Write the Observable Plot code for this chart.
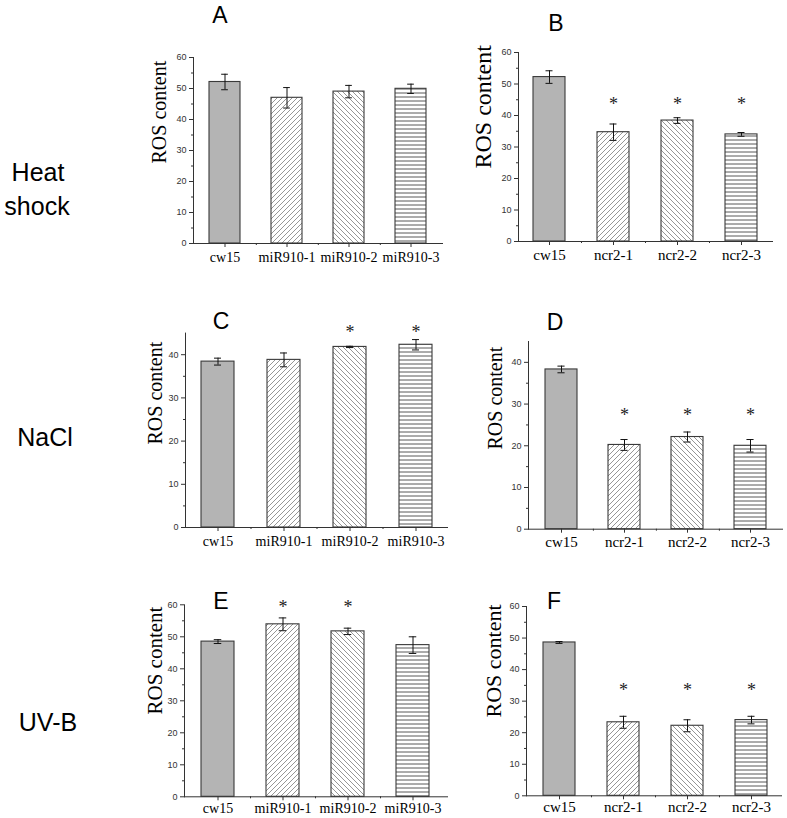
<!DOCTYPE html>
<html><head><meta charset="utf-8">
<script src="https://cdn.jsdelivr.net/npm/d3@7"></script>
<script src="https://cdn.jsdelivr.net/npm/@observablehq/plot@0.6"></script>
<style>
body{margin:0;background:#fff;}
#wrap{position:relative;width:787px;height:818px;overflow:hidden;background:#fff;}
.lbl{position:absolute;font-family:"Liberation Sans",Arial,sans-serif;color:#000;white-space:nowrap;transform:translate(-50%,-50%);line-height:1;}
</style></head><body>
<svg width="0" height="0" style="position:absolute">
<defs>
<pattern id="patFwd" patternUnits="userSpaceOnUse" width="5" height="5">
<rect width="5" height="5" fill="#fff"/>
<path d="M-1,1 l2,-2 M0,5 l5,-5 M4,6 l2,-2" stroke="#8a8a8a" stroke-width="0.9"/>
</pattern>
<pattern id="patBack" patternUnits="userSpaceOnUse" width="5" height="5">
<rect width="5" height="5" fill="#fff"/>
<path d="M-1,4 l2,2 M0,0 l5,5 M4,-1 l2,2" stroke="#8a8a8a" stroke-width="0.9"/>
</pattern>
<pattern id="patHor" patternUnits="userSpaceOnUse" width="4" height="4">
<rect width="4" height="4" fill="#fff"/>
<path d="M0,2 h4" stroke="#444" stroke-width="0.9"/>
</pattern>
</defs>
</svg>
<div id="wrap"></div>
<script>
// ---- data ----
const catsMir = ["cw15", "miR910-1", "miR910-2", "miR910-3"];
const catsNcr = ["cw15", "ncr2-1", "ncr2-2", "ncr2-3"];

const meanA = [52.1, 47.0, 49.0, 49.9];
const errA  = [2.5, 3.3, 2.0, 1.5];
const starsA = [];
const starYA = 0;

const meanB = [52.2, 34.7, 38.4, 34.0];
const errB  = [2.0, 2.6, 0.9, 0.6];
const starsB = ["ncr2-1", "ncr2-2", "ncr2-3"];
const starYB = 45;

const meanC = [38.4, 38.8, 41.8, 42.3];
const errC  = [0.8, 1.6, 0.15, 1.2];
const starsC = ["miR910-2", "miR910-3"];
const starYC = 46.1;

const meanD = [38.3, 20.2, 22.1, 20.0];
const errD  = [0.8, 1.3, 1.2, 1.5];
const starsD = ["ncr2-1", "ncr2-2", "ncr2-3"];
const starYD = 28.3;

const meanE = [48.5, 53.9, 51.7, 47.4];
const errE  = [0.6, 2.0, 1.0, 2.6];
const starsE = ["miR910-1", "miR910-2"];
const starYE = 60.5;

const meanF = [48.6, 23.3, 22.2, 24.0];
const errF  = [0.3, 1.9, 1.9, 1.2];
const starsF = ["ncr2-1", "ncr2-2", "ncr2-3"];
const starYF = 34.6;

const yMaxRow = [60, 60, 45, 45, 60, 60];
const yLabel = "ROS content";
const rowLabels = [["Heat", "shock"], ["NaCl"], ["UV-B"]];
const panelLetters = ["A", "B", "C", "D", "E", "F"];

// ---- styles / layout ----
const fills = ["#b4b4b4", "url(#patFwd)", "url(#patBack)", "url(#patHor)"];
const serif = "'Liberation Serif','Times New Roman',serif";

const panels = [
  {cats: catsMir, mean: meanA, err: errA, stars: starsA, starY: starYA},
  {cats: catsNcr, mean: meanB, err: errB, stars: starsB, starY: starYB},
  {cats: catsMir, mean: meanC, err: errC, stars: starsC, starY: starYC},
  {cats: catsNcr, mean: meanD, err: errD, stars: starsD, starY: starYD},
  {cats: catsMir, mean: meanE, err: errE, stars: starsE, starY: starYE},
  {cats: catsNcr, mean: meanF, err: errF, stars: starsF, starY: starYF}
];
const geo = [
  {col:0, axisL:193, axisR:443, yTop:57,    y0:243,   r0:192.5,  r1:443,    xFont:14, xPad:5, labX:159, labY:163, labFont:20},
  {col:1, axisL:518, axisR:773, yTop:52,    y0:241,   r0:517,    r1:773,    xFont:15, xPad:4, labX:483, labY:168, labFont:24},
  {col:0, axisL:185, axisR:448, yTop:332.6, y0:527,   r0:184.5,  r1:448.5,  xFont:14, xPad:5, labX:155, labY:444, labFont:20},
  {col:1, axisL:528, axisR:783, yTop:341,   y0:528.7, r0:528,    r1:783,    xFont:15, xPad:3, labX:495, labY:449, labFont:20},
  {col:0, axisL:184, axisR:448, yTop:604.3, y0:796.3, r0:184.75, r1:444.75, xFont:14, xPad:2, labX:155, labY:714, labFont:21},
  {col:1, axisL:526, axisR:782, yTop:606,   y0:795.3, r0:527,    r1:783,    xFont:15, xPad:2, labX:493, labY:717, labFont:22}
];
const letterPos = [[220,15],[556,23],[221,321],[555,322],[221,601],[554,601]];
const rowPos = [[[38,172],[37,206]], [[45,437]], [[48,722]]];

const wrap = document.getElementById("wrap");

panels.forEach((p, k) => {
  const g = geo[k];
  const ymax = yMaxRow[k];
  const svgLeft = g.col === 0 ? 128 : 458;
  const svgW = g.col === 0 ? 325 : 329;
  const svgTop = Math.floor(g.yTop) - 30;
  const h = Math.min(Math.ceil(g.y0 - svgTop) + 32, 818 - svgTop);
  const data = p.cats.map((c, i) => ({cat: c, mean: p.mean[i], err: p.err[i]}));
  const step = (g.r1 - g.r0) / p.cats.length;
  const bw = step * 0.5;
  const capInset = (bw - 7) / 2;
  const major = d3.range(0, ymax + 0.01, 10);
  const minor = d3.range(5, ymax, 10);
  const chart = Plot.plot({
    width: svgW,
    height: h,
    marginLeft: g.axisL - svgLeft,
    marginRight: svgLeft + svgW - g.axisR,
    marginTop: g.yTop - svgTop,
    marginBottom: svgTop + h - g.y0,
    style: {fontFamily: "'Liberation Sans',Arial,sans-serif", fontSize: "9px", color: "#333", background: "transparent", overflow: "visible"},
    x: {type: "band", domain: p.cats, range: [g.r0 - svgLeft, g.r1 - svgLeft], paddingInner: 0.5, paddingOuter: 0.25},
    y: {domain: [0, ymax]},
    color: {type: "ordinal", domain: p.cats, range: fills},
    marks: [
      Plot.barY(data, {x: "cat", y: "mean", fill: "cat", stroke: "#3a3a3a", strokeWidth: 1.1}),
      Plot.ruleX(data, {x: "cat", y1: d => d.mean - d.err, y2: d => d.mean + d.err, stroke: "#111", strokeWidth: 1}),
      Plot.tickY(data, {x: "cat", y: d => d.mean - d.err, insetLeft: capInset, insetRight: capInset, stroke: "#111"}),
      Plot.tickY(data, {x: "cat", y: d => d.mean + d.err, insetLeft: capInset, insetRight: capInset, stroke: "#111"}),
      Plot.text(p.stars, {x: d => d, y: () => p.starY, text: () => "*", fontSize: 18, fontFamily: serif, fill: "#222", dy: 4}),
      Plot.ruleY([0], {stroke: "#333"}),
      Plot.frame({anchor: "left", stroke: "#333"}),
      Plot.axisY({ticks: major, tickSize: 4, tickPadding: 3, fontSize: 9, label: null}),
      Plot.axisY({ticks: minor, tickSize: 2, tickFormat: () => "", label: null}),
      Plot.axisX({tickSize: 4, tickPadding: g.xPad, fontSize: g.xFont, fontFamily: serif, fill: "#000", label: null}),
      Plot.axisX({ticks: p.cats.slice(0, -1), tickSize: 2, tickFormat: () => "", label: null, dx: step / 2}),
      Plot.text([yLabel], {frameAnchor: "left", rotate: -90, dx: g.labX - g.axisL, dy: g.labY - (g.yTop + g.y0) / 2, fontSize: g.labFont, fontFamily: serif, fill: "#000"})
    ]
  });
  chart.style.position = "absolute";
  chart.style.left = svgLeft + "px";
  chart.style.top = svgTop + "px";
  chart.style.maxWidth = "none";
  wrap.appendChild(chart);
});

panelLetters.forEach((t, i) => {
  const d = document.createElement("div");
  d.className = "lbl";
  d.textContent = t;
  d.style.fontSize = "23px";
  d.style.left = letterPos[i][0] + "px";
  d.style.top = letterPos[i][1] + "px";
  wrap.appendChild(d);
});
rowLabels.forEach((lines, r) => {
  lines.forEach((t, j) => {
    const d = document.createElement("div");
    d.className = "lbl";
    d.textContent = t;
    d.style.fontSize = "25px";
    d.style.left = rowPos[r][j][0] + "px";
    d.style.top = rowPos[r][j][1] + "px";
    wrap.appendChild(d);
  });
});
</script>
</body></html>
